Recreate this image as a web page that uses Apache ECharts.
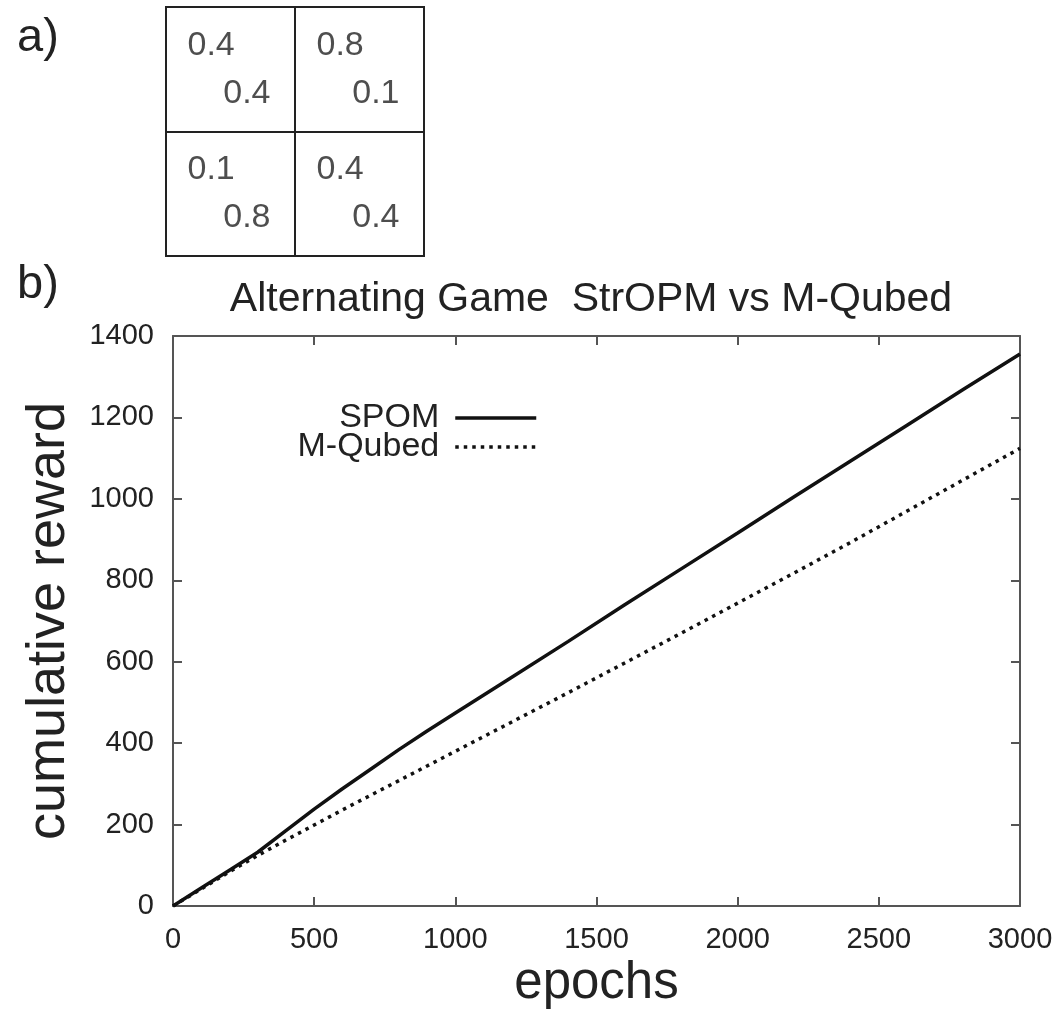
<!DOCTYPE html>
<html>
<head>
<meta charset="utf-8">
<script src="https://cdn.jsdelivr.net/npm/echarts@6/dist/echarts.min.js"></script>
<style>
html,body{margin:0;padding:0;background:#fff;}
#chart{width:1062px;height:1026px;}
</style>
</head>
<body>
<div id="chart"></div>
<script>
// ---- data ----
const epochs = [0,100,200,300,400,500,600,700,800,900,1000,1200,1400,1600,1800,2000,2200,2400,2600,2800,3000];
const spom   = [0,44,88,132,185,238,288,336,384,430,474,562,650,740,828,916,1005,1093,1181,1269,1356];
const mqubed = [0,42,84,124,162,199,236,272,308,344,380,452,524,597,670,744,818,893,970,1047,1124];
const xTicks = [0,500,1000,1500,2000,2500,3000];
const yTicks = [0,200,400,600,800,1000,1200,1400];
// payoff matrix (a): row player payoff (top-left), column player payoff (bottom-right)
const payoffRow = [[0.4,0.8],[0.1,0.4]];
const payoffCol = [[0.4,0.1],[0.8,0.4]];
const cellCols = ['c1','c2'];
const cellRows = ['r1','r2'];

const FONT = 'Liberation Sans, Arial, Helvetica, sans-serif';
const TXT = '#222';
const AX = '#555';

const rowData = [], colData = [];
for (let r = 0; r < 2; r++) for (let c = 0; c < 2; c++) {
  rowData.push([c, r, payoffRow[r][c]]);
  colData.push([c, r, payoffCol[r][c]]);
}

const chart = echarts.init(document.getElementById('chart'), null, {renderer:'canvas'});
const tickAxisX = (pos, show) => ({
  type:'value', gridIndex:0, position:pos, min:xTicks[0], max:xTicks[xTicks.length-1], interval:500,
  axisLine:{show:true, onZero:false, lineStyle:{color:AX, width:2}},
  axisTick:{show:true, inside:true, length:9, lineStyle:{color:AX, width:2}},
  axisLabel:{show:show, margin:19, fontSize:29, color:TXT, fontFamily:FONT, formatter:v => String(v)},
  splitLine:{show:false}
});
const tickAxisY = (pos, show) => ({
  type:'value', gridIndex:0, position:pos, min:yTicks[0], max:yTicks[yTicks.length-1], interval:200,
  axisLine:{show:true, onZero:false, lineStyle:{color:AX, width:2}},
  axisTick:{show:true, inside:true, length:9, lineStyle:{color:AX, width:2}},
  axisLabel:{show:show, margin:19, fontSize:29, color:TXT, fontFamily:FONT, formatter:v => String(v)},
  splitLine:{show:false}
});

const xMain = tickAxisX('bottom', true);
xMain.name = 'epochs';
xMain.nameLocation = 'middle';
xMain.nameGap = 52;
xMain.nameTextStyle = {fontSize:51, color:TXT, fontFamily:FONT};
const yMain = tickAxisY('left', true);
yMain.name = 'cumulative reward';
yMain.nameLocation = 'middle';
yMain.nameGap = 97;
yMain.nameTextStyle = {fontSize:54, color:TXT, fontFamily:FONT};

const cellLabel = (dx, dy, align) => ({
  show:true, position:'inside', offset:[dx,dy], align:align, verticalAlign:'middle',
  fontSize:34, color:TXT, fontFamily:FONT, formatter:p => p.value[2].toFixed(1)
});

const option = {
  backgroundColor:'#fff',
  animation:false,
  title:{
    text:'Alternating Game  StrOPM vs M-Qubed',
    left:586, top:274, textAlign:'center',
    textStyle:{fontSize:41, fontWeight:'normal', color:TXT, fontFamily:FONT}
  },
  graphic:[
    {type:'text', left:17, top:15, style:{text:'a)', font:'47px '+FONT, fill:TXT}},
    {type:'text', left:17, top:262, style:{text:'b)', font:'47px '+FONT, fill:TXT}}
  ],
  legend:{
    data:['SPOM','M-Qubed'],
    orient:'vertical', align:'right',
    right:519, top:396,
    itemWidth:81, itemHeight:14, itemGap:-5,
    itemStyle:{opacity:0},
    lineStyle:{width:3.5},
    textStyle:{fontSize:34, lineHeight:29, color:TXT, fontFamily:FONT, padding:[0,11,0,0]},
    selectedMode:false
  },
  grid:[
    {left:173, right:42, top:336, bottom:120, containLabel:false},
    {left:166, top:7, width:258, height:249, show:true, borderColor:'#222', borderWidth:2, backgroundColor:'transparent'}
  ],
  xAxis:[
    xMain,
    tickAxisX('top', false),
    {type:'category', gridIndex:1, data:cellCols, boundaryGap:true,
     axisLine:{show:false}, axisTick:{show:false}, axisLabel:{show:false},
     splitLine:{show:true, interval:0, lineStyle:{color:'#222', width:2}}}
  ],
  yAxis:[
    yMain,
    tickAxisY('right', false),
    {type:'category', gridIndex:1, data:cellRows, inverse:true, boundaryGap:true,
     axisLine:{show:false}, axisTick:{show:false}, axisLabel:{show:false},
     splitLine:{show:true, interval:0, lineStyle:{color:'#222', width:2}}}
  ],
  series:[
    {name:'SPOM', type:'line', xAxisIndex:0, yAxisIndex:0, symbol:'none', smooth:false,
     data:epochs.map((e,i)=>[e, spom[i]]),
     lineStyle:{color:'#111', width:3.5}, itemStyle:{color:'#111'}},
    {name:'M-Qubed', type:'line', xAxisIndex:0, yAxisIndex:0, symbol:'none', smooth:false,
     data:epochs.map((e,i)=>[e, mqubed[i]]),
     lineStyle:{color:'#111', width:3.5, type:[3.5,5]}, itemStyle:{color:'#111'}},
    {type:'scatter', xAxisIndex:2, yAxisIndex:2, symbolSize:0, silent:true,
     itemStyle:{color:'#222'}, data:rowData, label:cellLabel(-43,-24,'left')},
    {type:'scatter', xAxisIndex:2, yAxisIndex:2, symbolSize:0, silent:true,
     itemStyle:{color:'#222'}, data:colData, label:cellLabel(40,24,'right')}
  ]
};
chart.setOption(option);
</script>
</body>
</html>
